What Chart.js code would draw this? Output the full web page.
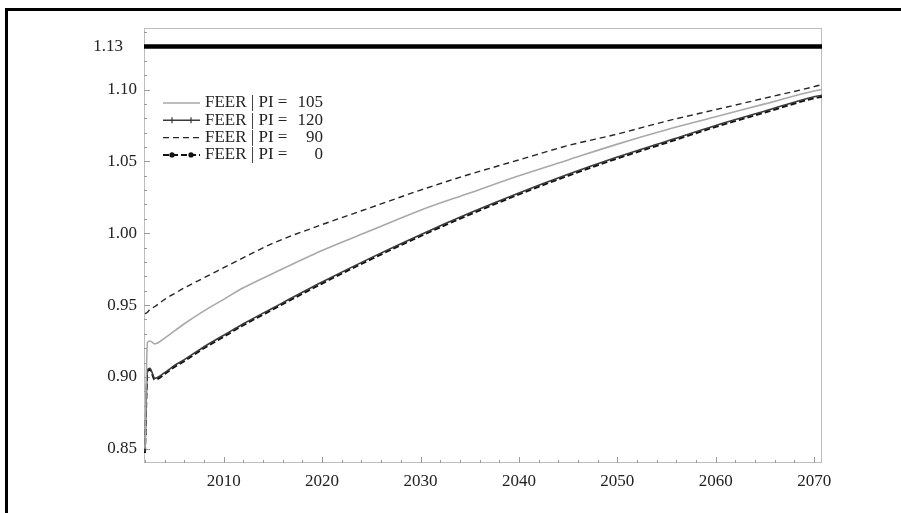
<!DOCTYPE html>
<html>
<head>
<meta charset="utf-8">
<script src="https://cdn.jsdelivr.net/npm/chart.js@4"></script>
<style>
  html, body { margin: 0; padding: 0; background: #fff; overflow: hidden; }
  #wrap { position: relative; width: 901px; height: 513px; }
  #frame { position: absolute; left: 5px; top: 8px; width: 900px; height: 510px;
           border-top: 3px solid #000; border-left: 3px solid #000; box-sizing: border-box; }
  canvas { position: absolute; left: 0; top: 0; }
</style>
</head>
<body>
<div id="wrap">
  <div id="frame"></div>
  <canvas id="c" width="901" height="513"></canvas>
</div>
<script>
// Time axis (years) shared by all FEER paths
const years = [2002, 2002.25, 2002.5, 2003, 2004, 2005, 2006, 2008, 2010, 2012, 2015,
               2020, 2025, 2030, 2035, 2040, 2045, 2050, 2055, 2060, 2065, 2070, 2070.8];

// FEER paths for each PI level
const feer105 = [0.850, 0.924, 0.925, 0.923, 0.927, 0.932, 0.937, 0.946, 0.954, 0.962, 0.972,
                 0.988, 1.002, 1.016, 1.028, 1.040, 1.051, 1.062, 1.072, 1.081, 1.090, 1.099, 1.100];
const feer120 = [0.848, 0.905, 0.906, 0.899, 0.903, 0.908, 0.912, 0.921, 0.929, 0.937, 0.948,
                 0.966, 0.983, 0.999, 1.014, 1.028, 1.041, 1.053, 1.064, 1.075, 1.085, 1.095, 1.096];
const feer90  = [0.944, 0.945, 0.947, 0.949, 0.954, 0.958, 0.962, 0.969, 0.976, 0.983, 0.993,
                 1.006, 1.018, 1.030, 1.041, 1.051, 1.061, 1.069, 1.078, 1.086, 1.094, 1.102, 1.1035];
const feer0   = [0.847, 0.904, 0.905, 0.898, 0.902, 0.907, 0.911, 0.920, 0.928, 0.936, 0.947,
                 0.965, 0.982, 0.998, 1.013, 1.027, 1.040, 1.052, 1.063, 1.074, 1.084, 1.094, 1.095];

// Long-run equilibrium level
const equilibrium = 1.13;

// Tick labels
const xTicks = [2010, 2020, 2030, 2040, 2050, 2060, 2070];
const yTicks = [0.85, 0.90, 0.95, 1.00, 1.05, 1.10];
const piLevels = ['105', '120', '90', '0'];

const xMin = 2001.9, xMax = 2070.8;
const yMin = 0.8401, yMax = 1.1428;

const FONT = 'Liberation Serif';

function pts(vals) { return years.map((t, i) => ({ x: t, y: vals[i] })); }

const styles = [
  { color: '#a9a9a9', width: 1.6, dash: [], marker: null },
  { color: '#3a3a3a', width: 1.6, dash: [], marker: 'cross' },
  { color: '#262626', width: 1.4, dash: [6, 4], marker: null },
  { color: '#111111', width: 2.0, dash: [6, 3], marker: 'dot' }
];
const series = [feer105, feer120, feer90, feer0];

const datasets = series.map((vals, i) => ({
  label: 'FEER | PI = ' + piLevels[i],
  data: pts(vals),
  borderColor: styles[i].color,
  borderWidth: styles[i].width,
  borderDash: styles[i].dash,
  pointRadius: 0,
  fill: false,
  cubicInterpolationMode: 'monotone'
}));
datasets.push({
  label: 'equilibrium',
  data: [{ x: xMin, y: equilibrium }, { x: xMax, y: equilibrium }],
  borderColor: '#000',
  borderWidth: 4.5,
  pointRadius: 0,
  fill: false
});

// Frame, inward tick marks, the 1.13 label and the inset legend
const decorations = {
  id: 'decorations',
  beforeDatasetsDraw(chart) {
    const { ctx, chartArea: a, scales: { x, y } } = chart;
    ctx.save();
    ctx.strokeStyle = '#bdbdbd';
    ctx.lineWidth = 1;
    ctx.strokeRect(a.left + 0.5, a.top + 0.5, a.right - a.left - 1, a.bottom - a.top - 1);
    ctx.strokeStyle = '#9a9a9a';
    ctx.beginPath();
    for (let i = 85; i <= 114; i++) {
      const py = Math.round(y.getPixelForValue(i / 100)) + 0.5;
      const len = (i % 5 === 0) ? 6 : 3;
      ctx.moveTo(a.left, py); ctx.lineTo(a.left + len, py);
    }
    for (let t = 2002; t <= 2070; t += 2) {
      const px = Math.round(x.getPixelForValue(t)) + 0.5;
      const len = (t % 10 === 0) ? 6 : 3;
      ctx.moveTo(px, a.bottom); ctx.lineTo(px, a.bottom - len);
    }
    ctx.stroke();
    ctx.restore();
  },
  afterDraw(chart) {
    const { ctx, chartArea: a, scales: { y } } = chart;
    ctx.save();
    ctx.font = '17px "' + FONT + '"';
    ctx.fillStyle = '#222';
    ctx.textBaseline = 'middle';
    ctx.textAlign = 'right';
    ctx.fillText(equilibrium.toFixed(2), a.left - 21, y.getPixelForValue(equilibrium));

    // legend
    const lx0 = a.left + 19, lx1 = a.left + 56, tx = a.left + 61, nx = a.left + 179;
    styles.forEach((s, i) => {
      const ry = a.top + 75 + i * 17.3;
      ctx.strokeStyle = s.color;
      ctx.lineWidth = s.width;
      ctx.setLineDash(s.dash);
      ctx.beginPath(); ctx.moveTo(lx0, ry); ctx.lineTo(lx1, ry); ctx.stroke();
      ctx.setLineDash([]);
      if (s.marker === 'cross') {
        ctx.lineWidth = 1.2;
        [lx0 + 9, lx1 - 9].forEach(mx => {
          ctx.beginPath(); ctx.moveTo(mx, ry - 3); ctx.lineTo(mx, ry + 3); ctx.stroke();
        });
      } else if (s.marker === 'dot') {
        ctx.fillStyle = s.color;
        [lx0 + 9, lx1 - 9].forEach(mx => {
          ctx.beginPath(); ctx.arc(mx, ry, 2.6, 0, Math.PI * 2); ctx.fill();
        });
      }
      ctx.fillStyle = '#222';
      ctx.textAlign = 'left';
      ctx.fillText('FEER | PI =', tx, ry);
      ctx.textAlign = 'right';
      ctx.fillText(piLevels[i], nx, ry);
    });
    ctx.restore();
  }
};

new Chart(document.getElementById('c'), {
  type: 'line',
  data: { datasets },
  plugins: [decorations],
  options: {
    responsive: false,
    animation: false,
    devicePixelRatio: 1,
    layout: { padding: { left: 0, top: 28, right: 79, bottom: 0 } },
    plugins: { legend: { display: false }, tooltip: { enabled: false } },
    scales: {
      x: {
        type: 'linear', min: xMin, max: xMax,
        afterBuildTicks(s) { s.ticks = xTicks.map(v => ({ value: v })); },
        afterFit(s) { s.height = 50; },
        grid: { display: false, drawTicks: false },
        border: { display: false },
        ticks: { color: '#222', padding: 8, maxRotation: 0, autoSkip: false,
                 font: { family: FONT, size: 17 }, callback: v => String(v) }
      },
      y: {
        type: 'linear', min: yMin, max: yMax,
        afterBuildTicks(s) { s.ticks = yTicks.map(v => ({ value: v })); },
        afterFit(s) { s.width = 144; },
        grid: { display: false, drawTicks: false },
        border: { display: false },
        ticks: { color: '#222', padding: 7, autoSkip: false,
                 font: { family: FONT, size: 17 }, callback: v => v.toFixed(2) }
      }
    }
  }
});
</script>
</body>
</html>
